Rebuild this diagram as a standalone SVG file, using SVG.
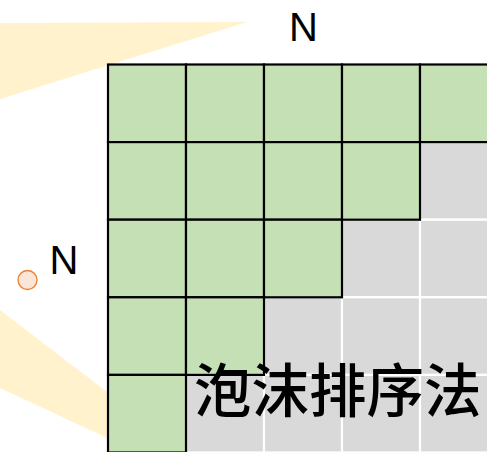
<svg xmlns="http://www.w3.org/2000/svg" width="487" height="452" viewBox="0 0 487 452">
  <style>
    .beam { fill: #FFF2CC; stroke: none; }
    .g { fill: #C5E0B4; stroke: #000; stroke-width: 2.2; }
    .s { fill: #D9D9D9; stroke: #FFF; stroke-width: 2.2; }
    .lbl { font-family: "Liberation Sans", "Noto Sans", sans-serif; font-size: 40px; fill: #000; text-anchor: middle; }
    .title { font-family: "Noto Sans CJK SC", "Noto Sans", sans-serif; font-size: 57.5px; font-weight: 500; fill: #000; }
  </style>
  <rect width="487" height="452" fill="#FFF"/>
  <g id="beams">
    <polygon class="beam" points="0,23 247,22 0,99"/>
    <polygon class="beam" points="0,310 120,402 120,444 0,388"/>
  </g>
  <g id="grid-gray">
    <rect class="s" x="420" y="142.1" width="78" height="77.6"/>
    <rect class="s" x="342" y="219.7" width="78" height="77.6"/>
    <rect class="s" x="420" y="219.7" width="78" height="77.6"/>
    <rect class="s" x="264" y="297.3" width="78" height="77.6"/>
    <rect class="s" x="342" y="297.3" width="78" height="77.6"/>
    <rect class="s" x="420" y="297.3" width="78" height="77.6"/>
    <rect class="s" x="186" y="374.9" width="78" height="77.6"/>
    <rect class="s" x="264" y="374.9" width="78" height="77.6"/>
    <rect class="s" x="342" y="374.9" width="78" height="77.6"/>
    <rect class="s" x="420" y="374.9" width="78" height="77.6"/>
  </g>
  <g id="grid-green">
    <rect class="g" x="108" y="64.5" width="78" height="77.6"/>
    <rect class="g" x="186" y="64.5" width="78" height="77.6"/>
    <rect class="g" x="264" y="64.5" width="78" height="77.6"/>
    <rect class="g" x="342" y="64.5" width="78" height="77.6"/>
    <rect class="g" x="420" y="64.5" width="78" height="77.6"/>
    <rect class="g" x="108" y="142.1" width="78" height="77.6"/>
    <rect class="g" x="186" y="142.1" width="78" height="77.6"/>
    <rect class="g" x="264" y="142.1" width="78" height="77.6"/>
    <rect class="g" x="342" y="142.1" width="78" height="77.6"/>
    <rect class="g" x="108" y="219.7" width="78" height="77.6"/>
    <rect class="g" x="186" y="219.7" width="78" height="77.6"/>
    <rect class="g" x="264" y="219.7" width="78" height="77.6"/>
    <rect class="g" x="108" y="297.3" width="78" height="77.6"/>
    <rect class="g" x="186" y="297.3" width="78" height="77.6"/>
    <rect class="g" x="108" y="374.9" width="78" height="77.6"/>
  </g>
  <g id="point">
    <circle cx="27.5" cy="280" r="9.5" fill="#FBE5D6" stroke="#ED7D31" stroke-width="1.3"/>
  </g>
  <g id="labels">
    <text class="lbl" x="303.5" y="40.5">N</text>
    <text class="lbl" x="64" y="273.5">N</text>
    <text class="title" x="194" y="411.5">泡沫排序法</text>
  </g>
</svg>
